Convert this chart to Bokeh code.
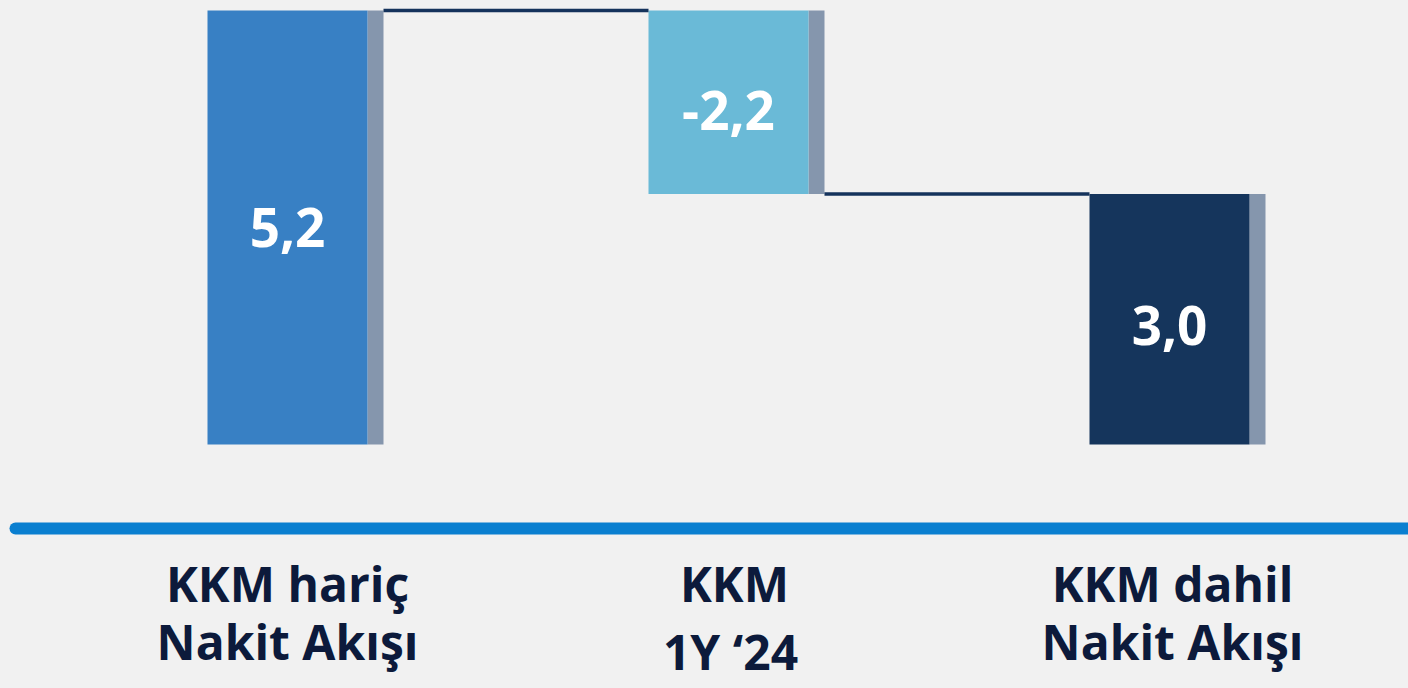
from bokeh.plotting import figure
from bokeh.models import Range1d
from bokeh.core.properties import value
from bokeh.embed import file_html
from bokeh.resources import INLINE

# ---- data ----
categories = ["KKM hariç\nNakit Akışı", "KKM\n1Y ‘24", "KKM dahil\nNakit Akışı"]
values = [5.2, -2.2, 3.0]
kinds = ["total", "delta", "total"]
value_labels = ["5,2", "-2,2", "3,0"]
bar_colors = ["#3880c4", "#6abad7", "#15355c"]

# ---- waterfall geometry from data ----
xs = list(range(len(categories)))
bottoms, tops, levels = [], [], []
run = 0.0
for v, k in zip(values, kinds):
    if k == "total":
        b, t = 0.0, v
        run = v
    else:
        b, t = min(run, run + v), max(run, run + v)
        run = run + v
    bottoms.append(b)
    tops.append(t)
    levels.append(run)

# ---- layout ----
W, H = 1408, 688
UNIT_PX = 441.0          # px between categories
Y_PX = 83.46             # px per value unit
ZERO_Y = 444             # page y of value 0
x_start = -287 / UNIT_PX
x_end = x_start + W / UNIT_PX
y_end = ZERO_Y / Y_PX
y_start = y_end - H / Y_PX

def ydata(page_y):
    return (ZERO_Y - page_y) / Y_PX

BG = "#f1f1f1"
p = figure(width=W, height=H, output_backend="svg", toolbar_location=None,
           x_range=Range1d(x_start, x_end), y_range=Range1d(y_start, y_end),
           min_border=0, background_fill_color=BG, border_fill_color=BG)
p.xaxis.visible = False
p.yaxis.visible = False
p.grid.visible = False
p.outline_line_color = None

bw = 160 / UNIT_PX
sw = 16 / UNIT_PX

# shadows
p.vbar(x=[x + bw / 2 + sw / 2 for x in xs], width=sw, top=tops, bottom=bottoms,
       fill_color="#8596ad", line_color=None)
# bars
p.vbar(x=xs, width=bw, top=tops, bottom=bottoms, fill_color=bar_colors, line_color=None)

# connectors
p.segment(x0=[xs[i] + bw / 2 + sw for i in range(len(xs) - 1)],
          y0=levels[:-1],
          x1=[xs[i + 1] - bw / 2 for i in range(len(xs) - 1)],
          y1=levels[:-1], line_color="#15335c", line_width=3.5)

# value labels
p.text(x=xs, y=[(b + t) / 2 for b, t in zip(bottoms, tops)], text=value_labels,
       y_offset=[0, 8, 6],
       text_font=value("Open Sans"), text_font_style="bold", text_font_size="53px",
       text_color="white", text_align="center", text_baseline="middle")

# blue base line
p.segment(x0=[(15 - 287) / UNIT_PX], y0=[ydata(528)], x1=[x_end + 0.1], y1=[ydata(528)],
          line_color="#0a7fd0", line_width=12, line_cap="round")

# category labels
line1 = [c.split("\n")[0] for c in categories]
line2 = [c.split("\n")[1] for c in categories]
p.text(x=xs, y=[ydata(583)] * 3, text=line1, x_offset=[0, 6, 3],
       text_font=value("Open Sans"), text_font_style="bold", text_font_size="48px",
       text_color="#0c1a3b", text_align="center", text_baseline="alphabetic")
p.text(x=xs, y=[ydata(641), ydata(651), ydata(641)], text=line2, x_offset=[0, 2, 3],
       text_font=value("Open Sans"), text_font_style="bold", text_font_size="48px",
       text_color="#0c1a3b", text_align="center", text_baseline="alphabetic")

html = file_html(p, INLINE)
html = html.replace("</head>", "<style>body{background:%s;}</style></head>" % BG, 1)
open("out.html", "w").write(html)
